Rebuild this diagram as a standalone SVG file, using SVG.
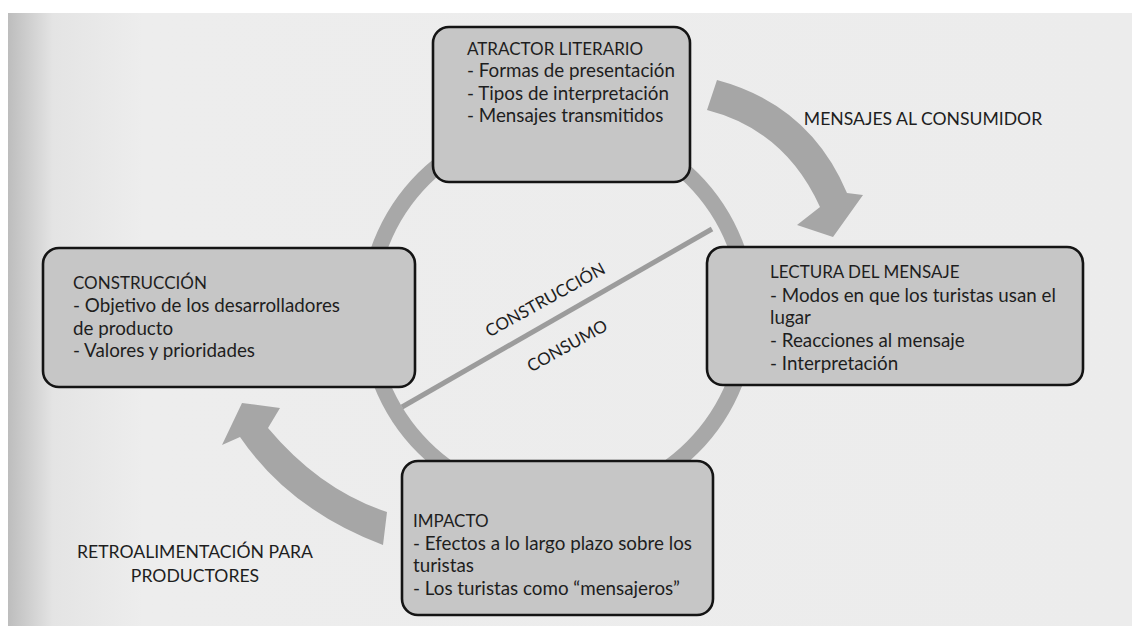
<svg xmlns="http://www.w3.org/2000/svg" width="1132" height="626" viewBox="0 0 1132 626">
<defs>
<linearGradient id="page" x1="0" y1="0" x2="1" y2="0">
<stop offset="0" stop-color="#bdbdbd"/>
<stop offset="0.04" stop-color="#e4e4e4"/>
<stop offset="0.12" stop-color="#ededed"/>
<stop offset="1" stop-color="#ececec"/>
</linearGradient>
<style>
.box{fill:#c6c6c6;stroke:#141414;stroke-width:2.6}
.t{font-family:Lato,"Liberation Sans",sans-serif;font-size:18.8px;fill:#1e1e1e}
.h{font-family:Lato,"Liberation Sans",sans-serif;font-size:17px;fill:#1e1e1e}
.lbl{font-family:Lato,"Liberation Sans",sans-serif;font-size:17.6px;fill:#1e1e1e;text-anchor:middle}
.arrow{fill:#a6a6a6;stroke:none}
</style>
</defs>
<rect x="0" y="0" width="1132" height="626" fill="#ffffff"/>
<rect x="8" y="13" width="1124" height="613" fill="url(#page)"/>

<g id="connectors">
<circle id="ring" cx="558" cy="313" r="190" fill="none" stroke="#a8a8a8" stroke-width="16"/>
<line id="divider" x1="402" y1="407" x2="712" y2="229" stroke="#9c9c9c" stroke-width="5"/>
<path id="arrow-mensajes" class="arrow" d="M717,80 Q810,105 847,193 L863,195 L833,237 L797,225 L820,207 Q785,130 707,110 Z"/>
<path id="arrow-retro" class="arrow" d="M387,512 Q320,490 268,428 L280,408 L242,403 L222,445 L240,437 Q290,510 383,545 Z"/>
</g>

<g id="labels">
<text class="lbl" style="font-size:17px" transform="translate(548,305) rotate(-29)">CONSTRUCCIÓN</text>
<text class="lbl" style="font-size:17px" transform="translate(570,351) rotate(-29)">CONSUMO</text>
<text class="lbl" x="923" y="125">MENSAJES AL CONSUMIDOR</text>
<text class="lbl" x="195" y="558">RETROALIMENTACIÓN PARA</text>
<text class="lbl" x="195" y="582">PRODUCTORES</text>
</g>

<g id="atractor">
<rect class="box" x="433" y="27" width="257" height="155" rx="16"/>
<text class="h" x="467" y="55">ATRACTOR LITERARIO</text>
<text class="t" x="467" y="77">- Formas de presentación</text>
<text class="t" x="467" y="100">- Tipos de interpretación</text>
<text class="t" x="467" y="122">- Mensajes transmitidos</text>
</g>

<g id="lectura">
<rect class="box" x="707" y="247" width="376" height="138" rx="16"/>
<text class="h" x="770" y="278">LECTURA DEL MENSAJE</text>
<text class="t" x="770" y="302">- Modos en que los turistas usan el</text>
<text class="t" x="770" y="324">lugar</text>
<text class="t" x="770" y="347">- Reacciones al mensaje</text>
<text class="t" x="770" y="370">- Interpretación</text>
</g>

<g id="construccion">
<rect class="box" x="43" y="248" width="372" height="139" rx="16"/>
<text class="h" x="73" y="289">CONSTRUCCIÓN</text>
<text class="t" x="73" y="312">- Objetivo de los desarrolladores</text>
<text class="t" x="73" y="335">de producto</text>
<text class="t" x="73" y="357">- Valores y prioridades</text>
</g>

<g id="impacto">
<rect class="box" x="402" y="461" width="311" height="154" rx="16"/>
<text class="h" x="413" y="527">IMPACTO</text>
<text class="t" x="413" y="550">- Efectos a lo largo plazo sobre los</text>
<text class="t" x="413" y="572">turistas</text>
<text class="t" x="413" y="595">- Los turistas como “mensajeros”</text>
</g>
</svg>
